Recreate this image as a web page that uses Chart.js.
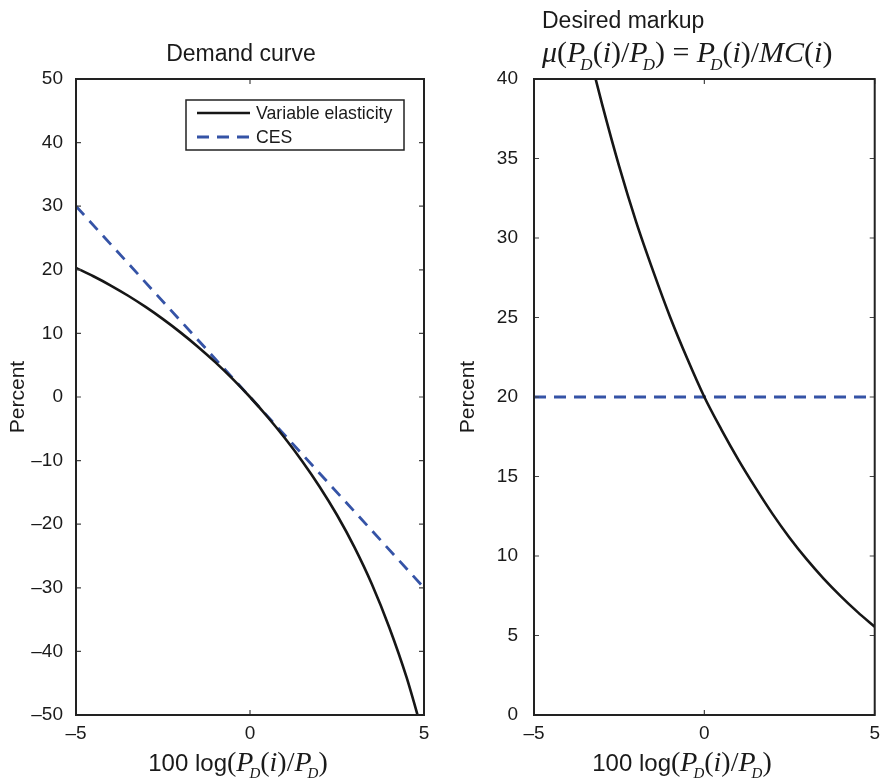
<!DOCTYPE html>
<html>
<head>
<meta charset="utf-8">
<script src="https://cdn.jsdelivr.net/npm/chart.js@4/dist/chart.umd.min.js"></script>
<style>
  html, body { margin: 0; padding: 0; background: #fff; }
  #wrap { position: relative; width: 887px; height: 779px; }
  #cLeft { position: absolute; left: 0; top: 0; }
  #cRight { position: absolute; left: 450px; top: 0; }
</style>
</head>
<body>
<div id="wrap">
  <canvas id="cLeft" width="450" height="779"></canvas>
  <canvas id="cRight" width="437" height="779"></canvas>
</div>
<script>
// ── DATA ────────────────────────────────────────────────
const demandX        = [-5, -4.5, -4, -3.5, -3, -2.5, -2, -1.5, -1, -0.5, 0, 0.5, 1, 1.5, 2, 2.5, 3, 3.5, 4, 4.5, 5];
const demandVariable = [20.3, 18.99, 17.53, 15.92, 14.16, 12.24, 10.16, 7.91, 5.48, 2.85, 0, -3.1, -6.45, -10.1, -14.1, -18.55, -23.6, -29.4, -36.2, -44.1, -53.6];
const demandCesX     = [-5, 5];
const demandCes      = [30, -30];

const markupX        = [-3.5, -3, -2.5, -2, -1.5, -1, -0.5, 0, 0.5, 1, 1.5, 2, 2.5, 3, 3.5, 4, 4.5, 5];
const markupVariable = [42.6, 38.4, 34.5, 31.0, 27.9, 25.0, 22.4, 20.0, 17.95, 16.05, 14.3, 12.65, 11.15, 9.8, 8.58, 7.48, 6.47, 5.55];
const markupCesX     = [-5, 5];
const markupCes      = [20, 20];

const legendLabels   = ['Variable elasticity', 'CES'];
const xTicks         = [-5, 0, 5];

// ── STYLE ───────────────────────────────────────────────
const SANS  = '"Liberation Sans", Arial, Helvetica, sans-serif';
const SERIF = '"Liberation Serif", "Times New Roman", serif';
const BLACK = '#161616';
const BLUE  = '#3553a6';

const pts = (xs, ys) => xs.map((x, i) => ({ x, y: ys[i] }));
const minus = v => (v < 0 ? '\u2013' + Math.abs(v) : String(v));

// ── RICH TEXT (math titles) ─────────────────────────────
function drawRich(ctx, parts, x, y, align) {
  let w = 0;
  parts.forEach(p => { ctx.font = p.f; p.w = ctx.measureText(p.t).width; w += p.w + (p.dx || 0); });
  let cx = align === 'center' ? x - w / 2 : x;
  ctx.textAlign = 'left';
  ctx.textBaseline = 'alphabetic';
  parts.forEach(p => {
    ctx.font = p.f;
    ctx.fillText(p.t, cx + (p.dx || 0), y + (p.dy || 0));
    cx += p.w + (p.dx || 0);
  });
}
function mathSet(size) {
  return {
    up:  t => ({ t, f: `${size}px ${SERIF}` }),
    it:  t => ({ t, f: `italic ${size}px ${SERIF}` }),
    sub: t => ({ t, f: `italic ${Math.round(size * 0.55)}px ${SERIF}`, dy: Math.round(size * 0.25), dx: -Math.round(size * 0.15) }),
  };
}
function pOverP(m) {
  return [m.up('('), m.it('P'), m.sub('D'), m.up('('), m.it('i'), m.up(')/'), m.it('P'), m.sub('D'), m.up(')')];
}

// ── PLUGINS ─────────────────────────────────────────────
const frameTicks = {
  id: 'frameTicks',
  afterDatasetsDraw(chart) {
    const { ctx, chartArea: a, scales } = chart;
    ctx.save();
    ctx.strokeStyle = '#444';
    ctx.lineWidth = 1.2;
    const L = 5;
    scales.x.ticks.forEach(t => {
      const px = scales.x.getPixelForValue(t.value);
      ctx.beginPath();
      ctx.moveTo(px, a.bottom); ctx.lineTo(px, a.bottom - L);
      ctx.moveTo(px, a.top); ctx.lineTo(px, a.top + L);
      ctx.stroke();
    });
    scales.y.ticks.forEach(t => {
      const py = scales.y.getPixelForValue(t.value);
      ctx.beginPath();
      ctx.moveTo(a.left, py); ctx.lineTo(a.left + L, py);
      ctx.moveTo(a.right, py); ctx.lineTo(a.right - L, py);
      ctx.stroke();
    });
    ctx.strokeStyle = '#222';
    ctx.lineWidth = 2;
    ctx.strokeRect(a.left, a.top, a.right - a.left, a.bottom - a.top);
    ctx.restore();
  },
};

const annotations = {
  id: 'annotations',
  afterDraw(chart, args, opts) {
    const { ctx, chartArea: a } = chart;
    ctx.save();
    ctx.fillStyle = '#1a1a1a';
    // y title
    ctx.save();
    ctx.translate(opts.yTitleX, (a.top + a.bottom) / 2);
    ctx.rotate(-Math.PI / 2);
    ctx.font = `21px ${SANS}`;
    ctx.textAlign = 'center';
    ctx.textBaseline = 'middle';
    ctx.fillText('Percent', 0, 0);
    ctx.restore();
    // x title
    const mx = mathSet(28);
    drawRich(ctx, [{ t: '100 log', f: `24px ${SANS}` }].concat(pOverP(mx)), opts.xTitleX, 771, 'center');
    // chart title
    ctx.font = `23px ${SANS}`;
    if (opts.title === 'demand') {
      ctx.textAlign = 'center';
      ctx.fillText('Demand curve', 241, 61);
    } else {
      ctx.textAlign = 'left';
      ctx.fillText('Desired markup', 92, 28);
      const m = mathSet(30);
      drawRich(ctx, [m.it('\u03bc')].concat(pOverP(m),
        [m.up(' = '), m.it('P'), m.sub('D'), m.up('('), m.it('i'), m.up(')/'), m.it('MC'), m.up('('), m.it('i'), m.up(')')]),
        92, 62, 'left');
    }
    // legend
    if (opts.legend) {
      const bx = 186, by = 100, bw = 218, bh = 50;
      ctx.fillStyle = '#fff';
      ctx.fillRect(bx, by, bw, bh);
      ctx.strokeStyle = '#222';
      ctx.lineWidth = 1.5;
      ctx.strokeRect(bx, by, bw, bh);
      chart.data.datasets.forEach((ds, i) => {
        const yy = by + 13 + i * 24;
        ctx.strokeStyle = ds.borderColor;
        ctx.lineWidth = ds.borderWidth;
        ctx.setLineDash(ds.borderDash || []);
        ctx.beginPath();
        ctx.moveTo(bx + 11, yy); ctx.lineTo(bx + 64, yy);
        ctx.stroke();
        ctx.setLineDash([]);
        ctx.fillStyle = '#1a1a1a';
        ctx.font = `17.7px ${SANS}`;
        ctx.textAlign = 'left';
        ctx.textBaseline = 'middle';
        ctx.fillText(ds.label, bx + 70, yy + 1);
      });
    }
    ctx.restore();
  },
};

// ── CHART BUILDER ───────────────────────────────────────
function makeChart(id, cfg) {
  const ctx = document.getElementById(id).getContext('2d');
  return new Chart(ctx, {
    type: 'line',
    data: {
      datasets: [
        { label: legendLabels[0], data: cfg.variable, borderColor: BLACK, borderWidth: 2.6,
          pointRadius: 0, cubicInterpolationMode: 'monotone', fill: false },
        { label: legendLabels[1], data: cfg.ces, borderColor: BLUE, borderWidth: 2.8,
          borderDash: [12, 8], pointRadius: 0, tension: 0, fill: false },
      ],
    },
    options: {
      responsive: false,
      animation: false,
      devicePixelRatio: 1,
      layout: { padding: { left: 0, right: cfg.padRight, top: 79, bottom: 0 } },
      scales: {
        x: {
          type: 'linear', min: -5, max: 5,
          afterBuildTicks: s => { s.ticks = xTicks.map(v => ({ value: v })); },
          afterFit: s => { s.height = 64; },
          grid: { display: false, drawTicks: false },
          border: { display: false },
          ticks: { padding: 7, color: '#1a1a1a', font: { family: SANS, size: 19 }, callback: minus, maxRotation: 0 },
        },
        y: {
          type: 'linear', min: cfg.yMin, max: cfg.yMax,
          afterFit: s => { s.width = cfg.yWidth; },
          grid: { display: false, drawTicks: false },
          border: { display: false },
          ticks: { stepSize: cfg.yStep, padding: cfg.yPad, color: '#1a1a1a', font: { family: SANS, size: 19 }, callback: minus },
        },
      },
      plugins: {
        legend: { display: false },
        tooltip: { enabled: false },
        annotations: cfg.annot,
      },
    },
    plugins: [frameTicks, annotations],
  });
}

makeChart('cLeft', {
  variable: pts(demandX, demandVariable),
  ces: pts(demandCesX, demandCes),
  yMin: -50, yMax: 50, yStep: 10, yWidth: 76, yPad: 13, padRight: 26,
  annot: { yTitleX: 18, xTitleX: 238, title: 'demand', legend: true },
});

makeChart('cRight', {
  variable: pts(markupX, markupVariable),
  ces: pts(markupCesX, markupCes),
  yMin: 0, yMax: 40, yStep: 5, yWidth: 84, yPad: 16, padRight: 4,
  annot: { yTitleX: 18, xTitleX: 232, title: 'markup', legend: false },
});
</script>
</body>
</html>
